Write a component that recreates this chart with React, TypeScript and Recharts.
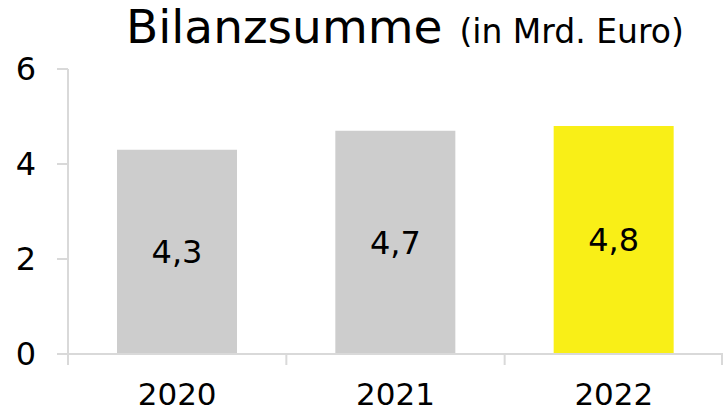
import React from 'react';
import { BarChart, Bar, XAxis, YAxis, Cell, LabelList } from 'recharts';

const categories = ['2020', '2021', '2022'];
const values = [4.3, 4.7, 4.8];
const barColors = ['#cdcdcd', '#cdcdcd', '#f9ef17'];
const yTicks = [0, 2, 4, 6];
const titleMain = 'Bilanzsumme';
const titleSub = '(in Mrd. Euro)';

const data = categories.map((c, i) => ({ year: c, value: values[i] }));

const FONT = '"DejaVu Sans", Verdana, sans-serif';
const AXIS = '#d9d9d9';
const LAST = categories[categories.length - 1];

function CategoryTick(props: any) {
  const { x, y, payload } = props;
  const half = payload && payload.offset ? payload.offset : 0;
  const isLast = payload && payload.value === LAST;
  return (
    <g>
      <line x1={x - half} x2={x - half} y1={y} y2={y + 11} stroke={AXIS} strokeWidth={2} />
      {isLast && <line x1={x + half - 1} x2={x + half - 1} y1={y} y2={y + 11} stroke={AXIS} strokeWidth={2} />}
      <text x={x} y={y + 51} textAnchor="middle" fontSize={31} fontFamily={FONT} fill="#000">
        {payload.value}
      </text>
    </g>
  );
}

export default function App() {
  return (
    <div style={{ position: 'absolute', left: 0, top: 0, width: 723, height: 413, background: '#fff', fontFamily: FONT }}>
      <svg width={723} height={60} style={{ position: 'absolute', left: 0, top: 0 }}>
        <text x={126} y={43} fontFamily={FONT} fill="#000">
          <tspan fontSize={47}>{titleMain}</tspan>
          <tspan fontSize={33} dx={17}>{titleSub}</tspan>
        </text>
      </svg>
      <BarChart
        width={723}
        height={413}
        data={data}
        margin={{ top: 69, right: 0, bottom: 0, left: 0 }}
        style={{ position: 'absolute', left: 0, top: 0 }}
      >
        <XAxis
          dataKey="year"
          height={59}
          axisLine={{ stroke: AXIS, strokeWidth: 2 }}
          tickLine={false}
          tickSize={0}
          tickMargin={0}
          tick={<CategoryTick />}
          interval={0}
        />
        <YAxis
          width={68}
          domain={[0, 6]}
          ticks={yTicks}
          interval={0}
          axisLine={{ stroke: AXIS, strokeWidth: 2 }}
          tickLine={{ stroke: AXIS, strokeWidth: 2 }}
          tickSize={11}
          tickMargin={21}
          tick={{ fontSize: 32, fill: '#000', fontFamily: FONT }}
        />
        <Bar dataKey="value" barSize={120} isAnimationActive={false}>
          {data.map((d, i) => (
            <Cell key={d.year} fill={barColors[i]} />
          ))}
          <LabelList
            dataKey="value"
            position="center"
            formatter={(v: number) => String(v).replace('.', ',')}
            style={{ fontSize: 32, fill: '#000', fontFamily: FONT }}
          />
        </Bar>
      </BarChart>
    </div>
  );
}
